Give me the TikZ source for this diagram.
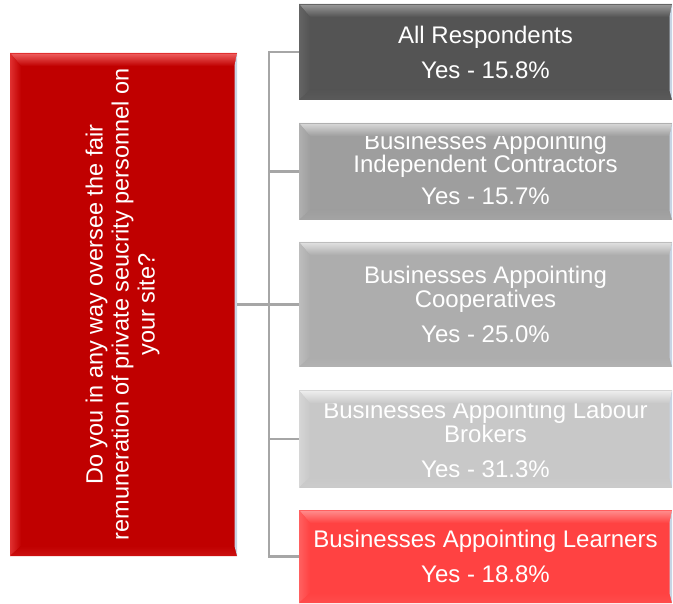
\documentclass[tikz,border=0pt]{standalone}
\usepackage{fontspec}
\setmainfont{Liberation Sans}
\usetikzlibrary{calc}
\definecolor{qred}{HTML}{C00000}
\definecolor{qredlt}{HTML}{F06060}
\definecolor{qredl}{HTML}{E03030}
\definecolor{qredb}{HTML}{CC1010}
\definecolor{gA}{HTML}{545454}
\definecolor{gAlt}{HTML}{9A9A9A}
\definecolor{gAl}{HTML}{646464}
\definecolor{gAb}{HTML}{5A5A5A}
\definecolor{gB}{HTML}{9E9E9E}
\definecolor{gBlt}{HTML}{DADADA}
\definecolor{gBl}{HTML}{B0B0B0}
\definecolor{gBb}{HTML}{A4A4A4}
\definecolor{gC}{HTML}{ADADAD}
\definecolor{gClt}{HTML}{E2E2E2}
\definecolor{gCl}{HTML}{BDBDBD}
\definecolor{gCb}{HTML}{B2B2B2}
\definecolor{gD}{HTML}{C8C8C8}
\definecolor{gDlt}{HTML}{EEEEEE}
\definecolor{gDl}{HTML}{D6D6D6}
\definecolor{gDb}{HTML}{CCCCCC}
\definecolor{rE}{HTML}{FF4242}
\definecolor{rElt}{HTML}{FF9090}
\definecolor{rEl}{HTML}{FF6060}
\definecolor{rEb}{HTML}{FF4C4C}
\definecolor{edge}{HTML}{C8D4E4}
\definecolor{conncol}{HTML}{A6A6A6}
\newcommand\bevelbox[5]{%
  \shade[top color=#3,bottom color=#2]
    (#1.north west) -- (#1.north east) -- ([shift={(-2.5,13)}]#1.north east)
    -- ([shift={(11,13)}]#1.north west) -- cycle;
  \shade[left color=#4,right color=#2]
    (#1.north west) -- ([shift={(11,13)}]#1.north west)
    -- ([shift={(11,-10)}]#1.south west) -- (#1.south west) -- cycle;
  \shade[top color=#2,bottom color=#5]
    (#1.south west) -- ([shift={(11,-10)}]#1.south west)
    -- ([shift={(-2.5,-10)}]#1.south east) -- (#1.south east) -- cycle;
  \fill[edge]
    (#1.north east) -- ([shift={(-2.5,13)}]#1.north east)
    -- ([shift={(-2.5,-10)}]#1.south east) -- (#1.south east) -- cycle;
  \draw[#4, line width=0.8pt] (#1.south west) -- (#1.north west) -- (#1.north east);
}
\tikzset{
  box/.style={rectangle, inner sep=0pt, outer sep=0pt, draw=none,
    text=white, align=center, font=\fontsize{24}{24}\selectfont},
  conn/.style={draw=conncol, line width=2.2pt}
}
\begin{document}
\begin{tikzpicture}[x=1pt,y=-1pt]
\useasboundingbox (0,0) rectangle (673,604);
% question box
\node[box, fill=qred, minimum width=227, minimum height=503] (q) at (123.5,304.5)
  {\rotatebox{90}{\fontsize{23.5}{26}\selectfont
   \begin{tabular}{@{}c@{}}Do you in any way oversee the fair\\
   remuneration of private seucrity personnel on\\your site?\end{tabular}}};
% answer boxes
\node[box, fill=gA, minimum width=373, minimum height=96] (b1) at (485.5,52)
  {All Respondents\\[11pt]Yes - 15.8\%};
\node[box, fill=gB, minimum width=373, minimum height=97,
  font=\fontsize{24}{22}\selectfont] (b2) at (485.5,171.5)
  {Businesses Appointing\\Independent Contractors\\[10pt]Yes - 15.7\%\rule[-7pt]{0pt}{7pt}};
\node[box, fill=gC, minimum width=373, minimum height=125] (b3) at (485.5,304.5)
  {Businesses Appointing\\Cooperatives\\[11pt]Yes - 25.0\%};
\node[box, fill=gD, minimum width=373, minimum height=97] (b4) at (485.5,439)
  {Businesses Appointing Labour\\Brokers\\[11pt]Yes - 31.3\%};
\node[box, fill=rE, minimum width=373, minimum height=93] (b5) at (485.5,556.5)
  {Businesses Appointing Learners\\[11pt]Yes - 18.8\%};
% bevels
\bevelbox{q}{qred}{qredlt}{qredl}{qredb}
\bevelbox{b1}{gA}{gAlt}{gAl}{gAb}
\bevelbox{b2}{gB}{gBlt}{gBl}{gBb}
\bevelbox{b3}{gC}{gClt}{gCl}{gCb}
\bevelbox{b4}{gD}{gDlt}{gDl}{gDb}
\bevelbox{b5}{rE}{rElt}{rEl}{rEb}
% connectors
\coordinate (tr) at (269,0);
\draw[conn] (b1.west) -- (b1.west -| tr) -- (b5.west -| tr) -- (b5.west);
\draw[conn] (b2.west) -- (b2.west -| tr);
\draw[conn] (b4.west) -- (b4.west -| tr);
\draw[conn] (q.east) -- (q.east -| b3.west);
\end{tikzpicture}
\end{document}
